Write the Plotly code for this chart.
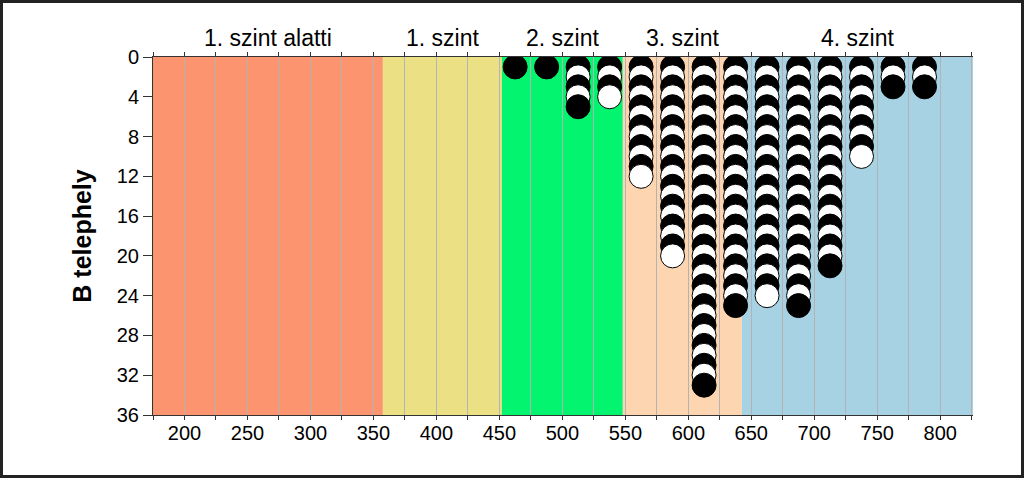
import plotly.graph_objects as go

# x position of each stack of dots and how many dots are in it
stack_x = [462.5, 487.5, 512.5, 537.5, 562.5, 587.5, 612.5, 637.5,
           662.5, 687.5, 712.5, 737.5, 762.5, 787.5]
stack_count = [1, 1, 5, 4, 12, 20, 33, 25, 24, 25, 21, 10, 3, 3]

# background level bands
band_names = ["1. szint alatti", "1. szint", "2. szint", "3. szint", "4. szint"]
band_edges = [175, 357.5, 452, 548, 642.5, 826]
band_colors = ["#FD9470", "#EBE184", "#03F46E", "#FDD5B1", "#A7D2E3"]

y_title = "B telephely"

xs, ys, fills = [], [], []
for x, n in zip(stack_x, stack_count):
    for k in range(1, n + 1):
        xs.append(x)
        ys.append(k)
        fills.append("black" if k % 2 == 1 else "white")

fig = go.Figure()
fig.add_trace(go.Scatter(
    x=xs, y=ys, mode="markers",
    marker=dict(size=24, color=fills, line=dict(color="black", width=1)),
    showlegend=False, hoverinfo="skip",
))

for i, name in enumerate(band_names):
    x0, x1 = band_edges[i], band_edges[i + 1]
    fig.add_shape(type="rect", xref="x", yref="paper", x0=x0, x1=x1, y0=0, y1=1,
                  fillcolor=band_colors[i], line_width=0, layer="below")
    fig.add_annotation(x=(x0 + x1) / 2, y=1, xref="x", yref="paper",
                       yanchor="bottom", yshift=4, text=name, showarrow=False,
                       font=dict(size=23, color="black"))

# outer frame around the whole picture
W, H = 1024, 478
L, R, T, B = 153, 51, 57, 63
pw, ph = W - L - R, H - T - B
fig.add_shape(type="rect", xref="paper", yref="paper",
              x0=(1.5 - L) / pw, x1=(W - 1.5 - L) / pw,
              y0=(ph + T - (H - 1.5)) / ph, y1=(ph + T - 1.5) / ph,
              line=dict(color="#222222", width=3), fillcolor="rgba(0,0,0,0)")

fig.update_xaxes(
    range=[band_edges[0], band_edges[-1]], tick0=200, dtick=50,
    ticks="outside", ticklen=4, tickcolor="#333", showline=True, linecolor="#333",
    linewidth=1, mirror="ticks", showgrid=True, gridcolor="#B3B3B3", gridwidth=1,
    minor=dict(dtick=25, tick0=200, ticks="outside", ticklen=4, tickcolor="#333",
               showgrid=True, gridcolor="#B3B3B3", gridwidth=1),
    zeroline=False, tickfont=dict(size=20, color="black"), ticklabelstandoff=-4,
)
fig.update_yaxes(
    range=[36, 0], tick0=0, dtick=4, ticks="outside", ticklen=9, tickcolor="#333",
    showline=True, linecolor="#333", linewidth=1, showgrid=False, zeroline=False,
    tickfont=dict(size=20, color="black"),
    title=dict(text="<b>" + y_title + "</b>", font=dict(size=25, color="black"),
               standoff=18),
)
fig.update_layout(
    width=W, height=H, margin=dict(l=L, r=R, t=T, b=B),
    paper_bgcolor="white", plot_bgcolor="white",
    font=dict(family="Liberation Sans, Arial, sans-serif", color="black"),
)

fig.write_html("out.html", config={"displayModeBar": False},
               post_script="document.body.style.margin = '0px';")
